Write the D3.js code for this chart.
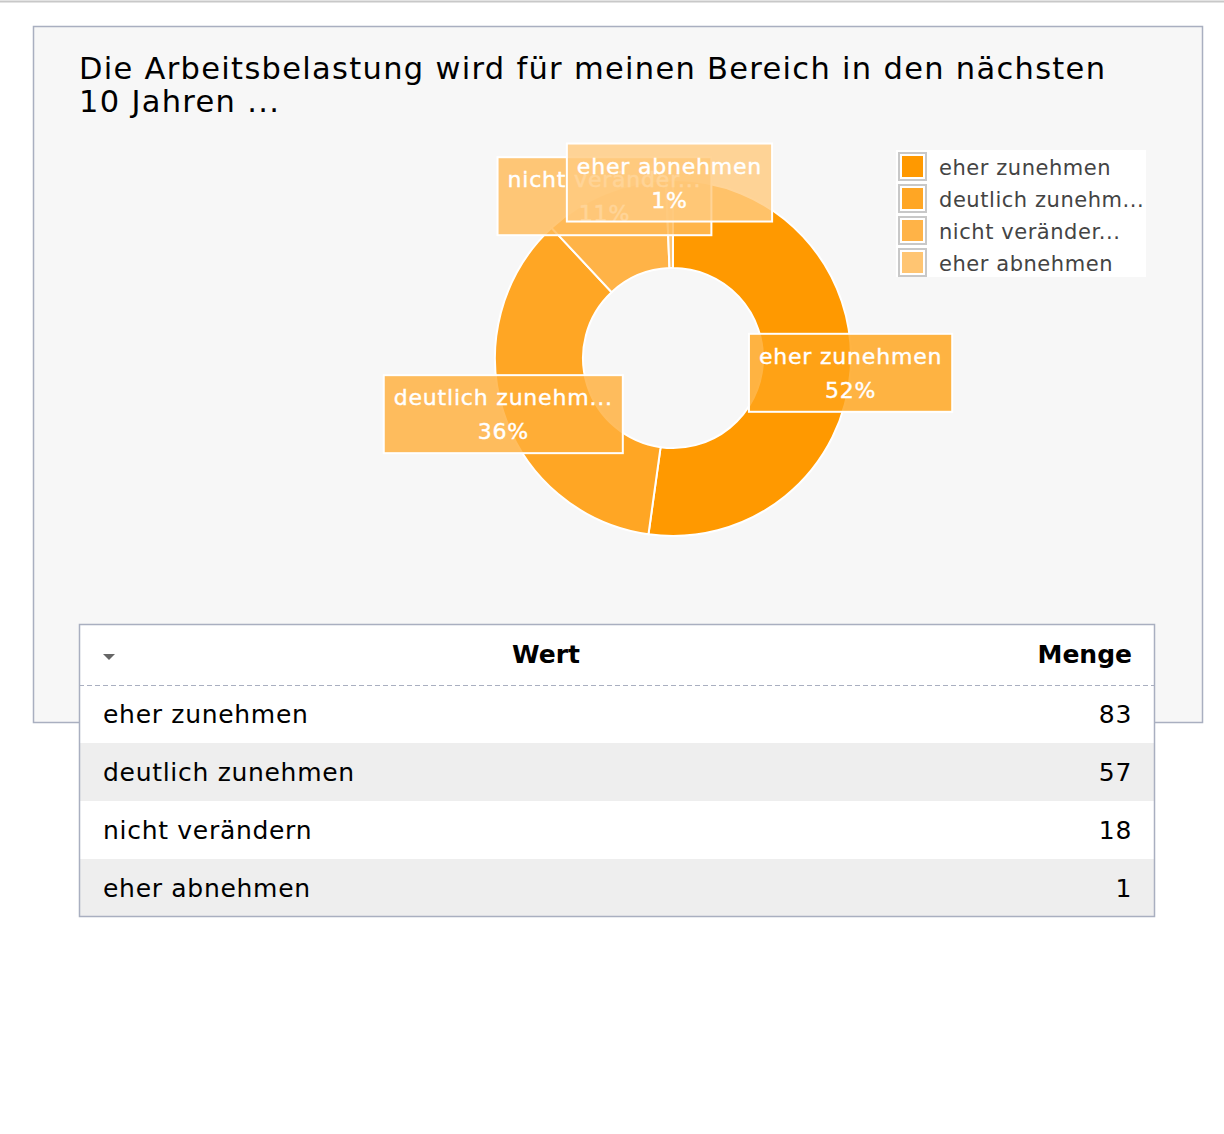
<!DOCTYPE html>
<html><head><meta charset="utf-8">
<script src="https://cdn.jsdelivr.net/npm/d3@7"></script>
<style>body{margin:0;background:#fff}svg{display:block}</style>
</head><body>
<svg id="c" width="1224" height="1134"></svg>
<script>
const titleLines = ["Die Arbeitsbelastung wird für meinen Bereich in den nächsten", "10 Jahren ..."];
const categories = ["eher zunehmen", "deutlich zunehmen", "nicht verändern", "eher abnehmen"];
const shortLabels = ["eher zunehmen", "deutlich zunehm...", "nicht veränder...", "eher abnehmen"];
const counts = [83, 57, 18, 1];
const colors = ["#ff9900", "#ffa624", "#ffb347", "#ffc572"];
const tableHeaders = ["Wert", "Menge"];

const FONT = "'DejaVu Sans', Verdana, sans-serif";
const svg = d3.select("#c");

// top rule
svg.append("line").attr("x1",0).attr("x2",1224).attr("y1",1.5).attr("y2",1.5)
  .attr("stroke","#c8c8c8").attr("stroke-width",2);

// panel
svg.append("rect").attr("x",33.5).attr("y",26.5).attr("width",1169).attr("height",696)
  .attr("fill","#f7f7f7").attr("stroke","#a9afc0").attr("stroke-width",1.5);

// title
const tt = svg.append("text").attr("x",79).attr("y",79).attr("font-family",FONT)
  .attr("font-size",30.5).attr("letter-spacing",1.3).attr("fill","#000");
titleLines.forEach((l,i)=> tt.append("tspan").attr("x",79).attr("dy", i?33:0).text(l));

// donut
const cx = 673, cy = 358, rOuter = 178, rInner = 90;
const total = d3.sum(counts);
const pie = d3.pie().sort(null).value(d=>d)(counts);
const arc = d3.arc().innerRadius(rInner).outerRadius(rOuter);
const color = d3.scaleOrdinal().domain(categories).range(colors);
const g = svg.append("g").attr("transform",`translate(${cx},${cy})`);
g.selectAll("path.slice").data(pie).join("path").attr("class","slice")
  .attr("d",arc).attr("fill",(d,i)=>color(categories[i]))
  .attr("stroke","#fff").attr("stroke-width",2);

// labels
const labelArc = d3.arc().innerRadius(rOuter).outerRadius(rOuter);
pie.forEach((d,i)=>{
  const [lx,ly] = labelArc.centroid(d);
  const lg = g.append("g").attr("transform",`translate(${lx},${ly+2.5})`);
  const rect = lg.append("rect");
  const mk = (y, s) => lg.append("text").attr("text-anchor","middle").attr("y",y)
    .attr("font-family",FONT).attr("font-size",22).attr("letter-spacing",0.8)
    .attr("fill","#fff").attr("stroke","#fff").attr("stroke-width",0.4).text(s);
  const t1 = mk(-9, shortLabels[i]);
  const t2 = mk(25, Math.round(counts[i]/total*100)+"%");
  const w = Math.max(t1.node().getComputedTextLength(), t2.node().getComputedTextLength()) + 20;
  const c = d3.color(d3.interpolateRgb(colors[i], "#fff")(0.1));
  rect.attr("x",-w/2).attr("y",-39).attr("width",w).attr("height",78)
    .attr("fill",c.formatHex()).attr("fill-opacity",0.82)
    .attr("stroke","#fff").attr("stroke-width",2);
  rect.lower();
});

// legend
const lgx = 896, lgy = 150;
svg.append("rect").attr("x",lgx).attr("y",lgy).attr("width",250).attr("height",127).attr("fill","#fff");
categories.forEach((c,i)=>{
  const y = lgy + 2 + i*32;
  svg.append("rect").attr("x",lgx+3).attr("y",y+1).attr("width",27).attr("height",27)
    .attr("fill","#fff").attr("stroke","#c8c8c8").attr("stroke-width",2);
  svg.append("rect").attr("x",lgx+6).attr("y",y+4).attr("width",21).attr("height",21)
    .attr("fill",color(c));
  svg.append("text").attr("x",lgx+43).attr("y",y+23).attr("font-family",FONT)
    .attr("font-size",21).attr("letter-spacing",0.55).attr("fill","#444").text(shortLabels[i]);
});

// table
const tx = 79, tw = 1076, ty = 624, hh = 61, rh = 58;
const tg = svg.append("g");
tg.append("rect").attr("x",tx).attr("y",ty).attr("width",tw).attr("height",hh+rh*categories.length)
  .attr("fill","#fff");
categories.forEach((c,i)=>{
  const y = ty + hh + i*rh;
  tg.append("rect").attr("x",tx).attr("y",y).attr("width",tw).attr("height",rh)
    .attr("fill", i%2 ? "#eeeeee" : "#ffffff");
  tg.append("text").attr("x",tx+24).attr("y",y+38).attr("font-family",FONT)
    .attr("font-size",25).attr("letter-spacing",0.7).attr("fill","#000").text(c);
  tg.append("text").attr("x",tx+tw-23).attr("y",y+38).attr("text-anchor","end").attr("font-family",FONT)
    .attr("font-size",25).attr("letter-spacing",0.7).attr("fill","#000").text(counts[i]);
});
tg.append("text").attr("x",546).attr("y",ty+39).attr("text-anchor","middle").attr("font-family",FONT)
  .attr("font-size",25).attr("font-weight","bold").attr("fill","#000").text(tableHeaders[0]);
tg.append("text").attr("x",tx+tw-23).attr("y",ty+39).attr("text-anchor","end").attr("font-family",FONT)
  .attr("font-size",25).attr("font-weight","bold").attr("fill","#000").text(tableHeaders[1]);
tg.append("path").attr("d",`M${tx+24},${ty+30}h12l-6,6z`).attr("fill","#666");
tg.append("line").attr("x1",tx).attr("x2",tx+tw).attr("y1",ty+hh+0.5).attr("y2",ty+hh+0.5)
  .attr("stroke","#a9afc0").attr("stroke-width",1.2).attr("stroke-dasharray","5,3");
tg.append("rect").attr("x",tx+0.5).attr("y",ty+0.5).attr("width",tw-1).attr("height",hh+rh*categories.length-1)
  .attr("fill","none").attr("stroke","#a9afc0").attr("stroke-width",1.5);
</script>
</body></html>
